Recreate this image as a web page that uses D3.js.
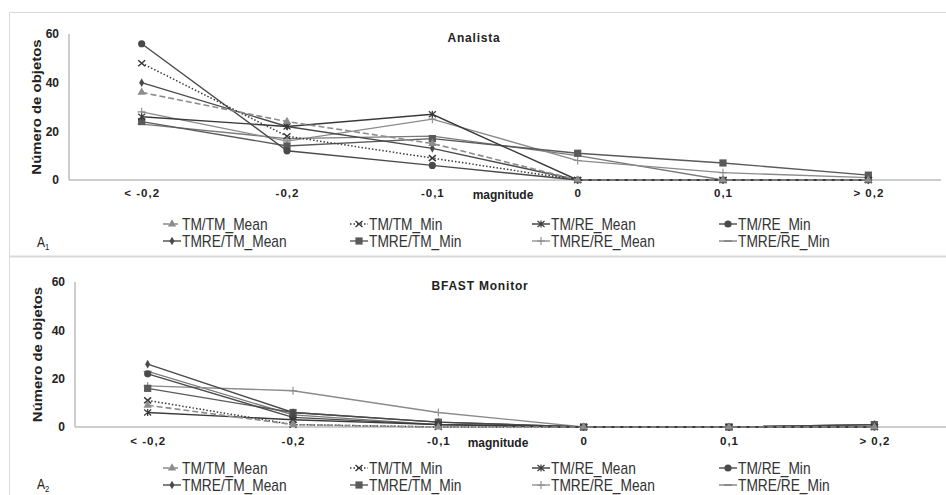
<!DOCTYPE html>
<html><head><meta charset="utf-8">
<script src="https://cdn.jsdelivr.net/npm/d3@7"></script>
<style>
body{margin:0;background:#fff;}
svg{display:block;font-family:"Liberation Sans",Arial,sans-serif;}
</style></head>
<body><svg id="c" width="946" height="495"></svg>
<script>
const categories = ["<  -0,2", "-0,2", "-0,1", "0", "0,1", "> 0,2"];
const seriesNames = ["TM/TM_Mean","TM/TM_Min","TM/RE_Mean","TM/RE_Min","TMRE/TM_Mean","TMRE/TM_Min","TMRE/RE_Mean","TMRE/RE_Min"];
const yTicks = [0, 20, 40, 60];
// Panel A1 - Analista
const analista = {
  "TM/TM_Mean":   [36, 24, 15, 0, 0, 0],
  "TM/TM_Min":    [48, 18, 9, 0, 0, 0],
  "TM/RE_Mean":   [26, 22, 27, 0, 0, 0],
  "TM/RE_Min":    [56, 12, 6, 0, 0, 0],
  "TMRE/TM_Mean": [40, 22, 13, 0, 0, 0],
  "TMRE/TM_Min":  [24, 14, 17, 11, 7, 2],
  "TMRE/RE_Mean": [28, 16, 25, 8, 3, 1],
  "TMRE/RE_Min":  [23, 17, 18, 10, 0, 0]
};
// Panel A2 - BFAST Monitor
const bfast = {
  "TM/TM_Mean":   [9, 1, 0, 0, 0, 0],
  "TM/TM_Min":    [11, 1, 0, 0, 0, 0],
  "TM/RE_Mean":   [6, 3, 1, 0, 0, 0],
  "TM/RE_Min":    [22, 4, 1, 0, 0, 0],
  "TMRE/TM_Mean": [26, 6, 2, 0, 0, 1],
  "TMRE/TM_Min":  [16, 6, 2, 0, 0, 1],
  "TMRE/RE_Mean": [17, 15, 6, 0, 0, 1],
  "TMRE/RE_Min":  [23, 5, 1, 0, 0, 0]
};

const styles = {
  "TM/TM_Mean":   {stroke:"#8c8c8c", dash:"6,3", marker:"triangle", w:1.6},
  "TM/TM_Min":    {stroke:"#3a3a3a", dash:"1.5,2", marker:"x", w:1.5},
  "TM/RE_Mean":   {stroke:"#3a3a3a", dash:null, marker:"star", w:1.4},
  "TM/RE_Min":    {stroke:"#4a4a4a", dash:null, marker:"circle", w:1.4},
  "TMRE/TM_Mean": {stroke:"#4a4a4a", dash:null, marker:"diamond", w:1.4},
  "TMRE/TM_Min":  {stroke:"#5a5a5a", dash:null, marker:"square", w:1.4},
  "TMRE/RE_Mean": {stroke:"#8a8a8a", dash:null, marker:"plus", w:1.3},
  "TMRE/RE_Min":  {stroke:"#7a7a7a", dash:null, marker:"dash", w:1.3}
};

const svg = d3.select("#c");
// frames
svg.append("path").attr("d","M9.5,495 V12.5 H946").attr("fill","none").attr("stroke","#d9d9d9").attr("stroke-width",1);
svg.append("line").attr("x1",9).attr("x2",946).attr("y1",256.5).attr("y2",256.5).attr("stroke","#d9d9d9").attr("stroke-width",2);

function marker(g, type, x, y, color){
  const s = g.append("g").attr("transform",`translate(${x},${y})`);
  if(type==="triangle") s.append("path").attr("d",d3.symbol(d3.symbolTriangle,30)()).attr("fill",color);
  else if(type==="circle") s.append("circle").attr("r",3.6).attr("fill",color);
  else if(type==="square") s.append("rect").attr("x",-3.6).attr("y",-3.6).attr("width",7.2).attr("height",7.2).attr("fill",color);
  else if(type==="diamond") s.append("path").attr("d",d3.symbol(d3.symbolDiamond,22)()).attr("fill",color);
  else if(type==="x") s.append("path").attr("d","M-3.5,-3 L3.5,3 M-3.5,3 L3.5,-3").attr("stroke",color).attr("stroke-width",1.5);
  else if(type==="star") s.append("path").attr("d","M-3.5,-3 L3.5,3 M-3.5,3 L3.5,-3 M0,-3.5 V3.5").attr("stroke",color).attr("stroke-width",1.2);
  else if(type==="plus") s.append("path").attr("d","M-4,0 H4 M0,-4 V4").attr("stroke",color).attr("stroke-width",1.1);
  else if(type==="dash") s.append("path").attr("d","M-4,0 H4").attr("stroke",color).attr("stroke-width",1.3);
}

function panel(cfg){
  const {data, title, x0, x1, yTop, yBot, titleX, titleY, ylabX, tickY, magX, magY, legY, tag, tagY} = cfg;
  const g = svg.append("g");
  const x = d3.scalePoint().domain(categories).range([x0, x1]).padding(0.5);
  const y = d3.scaleLinear().domain([0,60]).range([yBot, yTop]);
  // axes lines
  g.append("line").attr("x1",x0).attr("x2",x0).attr("y1",yTop).attr("y2",yBot).attr("stroke","#bdbdbd").attr("stroke-width",1.5);
  g.append("line").attr("x1",x0).attr("x2",x1).attr("y1",yBot).attr("y2",yBot).attr("stroke","#bdbdbd").attr("stroke-width",1.5);
  const yAxis = d3.axisLeft(y).tickValues(yTicks).tickSize(0).tickPadding(10);
  const ya = g.append("g").attr("transform",`translate(${x0},0)`).call(yAxis);
  ya.select(".domain").remove();
  ya.selectAll("text").attr("font-size",12).attr("font-weight","bold").attr("fill","#222").attr("font-family","Liberation Sans, Arial");
  const xAxis = d3.axisBottom(x).tickSize(0).tickPadding(0);
  const xa = g.append("g").attr("transform",`translate(0,${tickY})`).call(xAxis);
  xa.select(".domain").remove();
  xa.selectAll("text").attr("font-size",11.5).attr("font-weight","bold").attr("fill","#222").attr("letter-spacing","1px").attr("font-family","Liberation Sans, Arial").attr("dy","0.35em");
  // titles
  g.append("text").attr("x",titleX).attr("y",titleY).attr("text-anchor","middle").attr("font-size",12).attr("font-weight","bold").attr("letter-spacing","0.8px").attr("fill","#222").text(title);
  g.append("text").attr("transform",`translate(${ylabX},${(yTop+yBot)/2}) rotate(-90) scale(1.15,1)`).attr("text-anchor","middle").attr("font-size",13).attr("font-weight","bold").attr("fill","#222").text("Número de objetos");
  g.append("text").attr("x",magX).attr("y",magY).attr("text-anchor","middle").attr("font-size",12).attr("font-weight","bold").attr("fill","#222").text("magnitude");
  // lines
  const line = d3.line().x((d,i)=>x(categories[i])).y(d=>y(d));
  seriesNames.slice().reverse().forEach(name=>{
    const st = styles[name];
    g.append("path").datum(data[name]).attr("d",line).attr("fill","none").attr("stroke",st.stroke).attr("stroke-width",st.w).attr("stroke-dasharray",st.dash);
    data[name].forEach((v,i)=>marker(g, st.marker, x(categories[i]), y(v), st.stroke));
  });
  // legend
  const colX = [163, 350, 532, 719];
  seriesNames.forEach((name,i)=>{
    const st = styles[name];
    const lx = colX[i%4], ly = legY + Math.floor(i/4)*17;
    g.append("line").attr("x1",lx).attr("x2",lx+18).attr("y1",ly).attr("y2",ly).attr("stroke",st.stroke).attr("stroke-width",st.w).attr("stroke-dasharray",st.dash);
    marker(g, st.marker, lx+9, ly, st.stroke);
    g.append("text").attr("transform",`translate(${lx+19},${ly}) scale(0.86,1)`).attr("dy","0.36em").attr("font-size",16).attr("fill","#333")
      .text(name);
  });
  g.append("text").attr("transform",`translate(37,${tagY}) scale(0.86,1)`).attr("font-size",14).attr("fill","#222")
    .text("A").append("tspan").attr("font-size",9).attr("dy",3).text(tag);
}

panel({data:analista, title:"Analista", x0:69, x1:941, yTop:34, yBot:180, titleX:474, titleY:42, ylabX:41,
  tickY:193, magX:503, magY:199, legY:224, tag:"1", tagY:247});
panel({data:bfast, title:"BFAST  Monitor", x0:75, x1:947, yTop:282, yBot:427, titleX:480, titleY:290, ylabX:42,
  tickY:441, magX:498, magY:447, legY:468, tag:"2", tagY:489});
</script></body></html>
